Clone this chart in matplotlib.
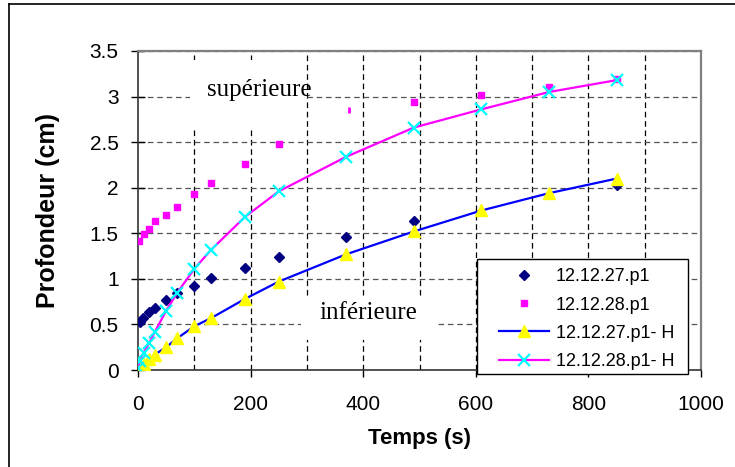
import matplotlib
matplotlib.use("Agg")
import matplotlib.pyplot as plt
from matplotlib.lines import Line2D
from matplotlib.patches import Rectangle

# ---- data ----
t27 = [3, 9, 20, 30, 50, 70, 100, 130, 190, 250, 370, 490, 850]
p27 = [0.53, 0.57, 0.64, 0.68, 0.77, 0.84, 0.92, 1.01, 1.12, 1.24, 1.46, 1.64, 2.03]

t28 = [2, 10, 20, 30, 50, 70, 100, 130, 190, 250, 490, 610, 730, 850]
p28 = [1.41, 1.49, 1.55, 1.64, 1.70, 1.79, 1.93, 2.05, 2.26, 2.48, 2.94, 3.02, 3.10, 3.19]
t28_partial = [375]
p28_partial = [2.85]

t27h = [0, 3, 10, 20, 30, 50, 70, 100, 130, 190, 250, 370, 490, 610, 730, 850]
p27h = [0.0, 0.03, 0.07, 0.12, 0.17, 0.25, 0.35, 0.48, 0.57, 0.78, 0.97, 1.27, 1.52, 1.75, 1.94, 2.10]

t28h = [0, 3, 10, 20, 30, 50, 70, 100, 130, 190, 250, 370, 490, 610, 730, 850]
p28h = [0.02, 0.10, 0.19, 0.30, 0.42, 0.65, 0.85, 1.11, 1.32, 1.68, 1.96, 2.34, 2.66, 2.86, 3.05, 3.18]

labels = ["12.12.27.p1", "12.12.28.p1", "12.12.27.p1- H", "12.12.28.p1- H"]
xticks = [0, 200, 400, 600, 800, 1000]
yticks = [0, 0.5, 1, 1.5, 2, 2.5, 3, 3.5]
ytick_labels = ["0", "0.5", "1", "1.5", "2", "2.5", "3", "3.5"]

plt.rcParams['font.family'] = ['Liberation Sans', 'DejaVu Sans']

fig = plt.figure(figsize=(7.35, 4.67), dpi=100)
W, H = 735, 467
AX_L, AX_R, AX_T, AX_B = 138, 701, 51, 370
ax = fig.add_axes([AX_L / W, 1 - AX_B / H, (AX_R - AX_L) / W, (AX_B - AX_T) / H])

def axfrac(px, py):
    return ((px - AX_L) / (AX_R - AX_L), (AX_B - py) / (AX_B - AX_T))

# outer frame lines (top and left)
fig.add_artist(Line2D([9 / W, 1.0], [1 - 4 / H, 1 - 4 / H], color='black', lw=1.2))
fig.add_artist(Line2D([9 / W, 9 / W], [0.0, 1 - 4 / H], color='black', lw=1.2))

ax.set_xlim(0, 1000)
ax.set_ylim(0, 3.5)
ax.set_axisbelow(True)

# grid
for xv in range(100, 1000, 100):
    ax.axvline(xv, color='black', lw=0.9, ls=(0, (4.5, 3)), zorder=0.5)
for yv in yticks[1:]:
    ax.axhline(yv, color='#555555', lw=0.9, ls=(0, (4.5, 3)), zorder=0.5)

# white text boxes
ax.add_patch(Rectangle((92, 2.67), 203, 0.73, facecolor='white', edgecolor='none', zorder=1))
ax.add_patch(Rectangle((290, 0.33), 240, 0.47, facecolor='white', edgecolor='none', zorder=1))
ax.text(215, 3.07, "supérieure", family=['Liberation Serif'], fontsize=18,
        ha='center', va='center', zorder=1.5)
ax.text(410, 0.62, "inférieure", family=['Liberation Serif'], fontsize=18,
        ha='center', va='center', zorder=1.5)

# series
ax.plot(t27, p27, ls='none', marker='D', ms=5, color='#000080', label=labels[0], zorder=3)
ax.plot(t28, p28, ls='none', marker='s', ms=5, color='#FF00FF', label=labels[1], zorder=3)
ax.plot(t28_partial, p28_partial, ls='none', marker='|', ms=5, mew=2, color='#FF00FF', zorder=3)
ax.plot(t27h, p27h, color='#0000FF', lw=1.6, marker='^', ms=9, mfc='#FFFF00', mec='#FFFF00',
        label=labels[2], zorder=4)
ax.plot(t28h, p28h, color='#FF00FF', lw=1.6, marker='x', ms=8, mew=1.6, mec='#00FFFF',
        label=labels[3], zorder=5)

# spines
for s in ['top', 'right']:
    ax.spines[s].set_color('#808080')
    ax.spines[s].set_linewidth(1.6)
for s in ['left', 'bottom']:
    ax.spines[s].set_color('#333333')
    ax.spines[s].set_linewidth(1.2)

ax.set_xticks(xticks)
ax.set_xticklabels([str(v) for v in xticks])
ax.set_yticks(yticks)
ax.set_yticklabels(ytick_labels)
ax.tick_params(axis='x', direction='out', length=5, width=1, pad=13, labelsize=15)
ax.tick_params(axis='y', direction='inout', length=10, width=1, pad=9, labelsize=15)

ax.set_xlabel("Temps (s)", fontsize=16, fontweight='bold', labelpad=10)
ax.set_ylabel("Profondeur (cm)", fontsize=18, fontweight='bold', labelpad=21)

# legend frame drawn separately for exact placement
lx0, ly0 = axfrac(477, 374)
lx1, ly1 = axfrac(688, 259)
ax.add_patch(Rectangle((lx0, ly0), lx1 - lx0, ly1 - ly0, transform=ax.transAxes,
                       facecolor='white', edgecolor='black', lw=1.0, zorder=9, clip_on=False))
ancx, ancy = axfrac(492.7, 262)
leg = ax.legend(loc='upper left', bbox_to_anchor=(ancx, ancy), borderaxespad=0,
                fontsize=13, frameon=False, handlelength=2.75, labelspacing=0.62,
                handletextpad=0.39, borderpad=0.35)
leg.set_zorder(10)

fig.savefig("out.png", dpi=100)
